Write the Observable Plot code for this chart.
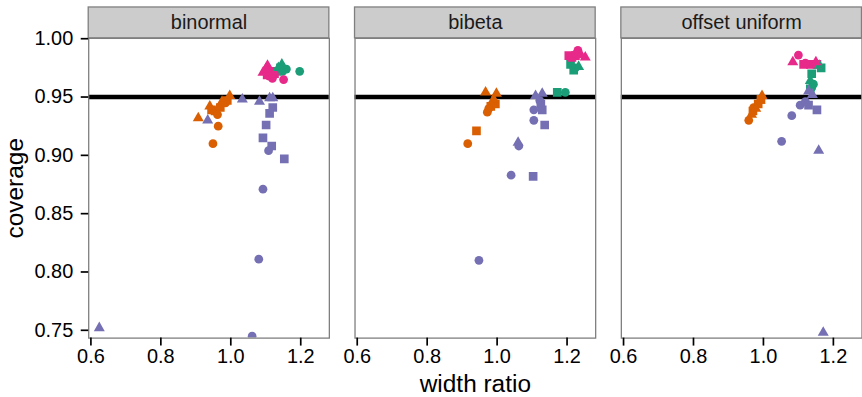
<!DOCTYPE html>
<html>
<head>
<meta charset="utf-8">
<script src="https://cdn.jsdelivr.net/npm/d3@7"></script>
<script src="https://cdn.jsdelivr.net/npm/@observablehq/plot@0.6"></script>
<style>
  html, body { margin: 0; padding: 0; background: #fff; overflow: hidden; }
  #chart { width: 862px; height: 397px; overflow: hidden; }
</style>
</head>
<body>
<div id="chart"></div>
<script>
// Facet panels (simulation scenario)
const panels = ["binormal", "bibeta", "offset uniform"];
// Interval methods (colour) and design groups (shape)
const methods = ["m1", "m2", "m3", "m4"];
const methodColors = ["#D95F02", "#7570B3", "#1B9E77", "#E7298A"];
const groups = ["g1", "g2", "g3"];
const groupSymbols = ["circle", "square", "triangle"];

// Tick values
const xTicks = [0.6, 0.8, 1.0, 1.2];
const yTicks = [0.75, 0.80, 0.85, 0.90, 0.95, 1.00];
const nominalCoverage = 0.95;

// [method, group, width ratio, coverage]
const binormalRows = [
  ["m1", "g3", 0.907, 0.932], ["m1", "g3", 0.940, 0.942], ["m1", "g3", 0.975, 0.946], ["m1", "g3", 0.997, 0.951],
  ["m1", "g1", 0.949, 0.910], ["m1", "g1", 0.964, 0.925], ["m1", "g1", 0.962, 0.935], ["m1", "g1", 0.985, 0.945],
  ["m1", "g2", 0.945, 0.939], ["m1", "g2", 0.955, 0.938], ["m1", "g2", 0.970, 0.941], ["m1", "g2", 0.990, 0.947],
  ["m2", "g3", 0.624, 0.752], ["m2", "g3", 0.934, 0.930], ["m2", "g3", 1.033, 0.948], ["m2", "g3", 1.082, 0.946],
  ["m2", "g3", 1.111, 0.949], ["m2", "g3", 1.120, 0.949],
  ["m2", "g2", 1.120, 0.941], ["m2", "g2", 1.111, 0.936], ["m2", "g2", 1.101, 0.926], ["m2", "g2", 1.092, 0.915],
  ["m2", "g2", 1.117, 0.908], ["m2", "g2", 1.153, 0.897],
  ["m2", "g1", 1.108, 0.904], ["m2", "g1", 1.092, 0.871], ["m2", "g1", 1.080, 0.811], ["m2", "g1", 1.061, 0.745],
  ["m3", "g1", 1.197, 0.972], ["m3", "g1", 1.159, 0.974], ["m3", "g1", 1.148, 0.972],
  ["m3", "g3", 1.146, 0.978], ["m3", "g3", 1.136, 0.975], ["m3", "g2", 1.132, 0.972], ["m3", "g2", 1.142, 0.975],
  ["m4", "g3", 1.105, 0.977], ["m4", "g3", 1.092, 0.971], ["m4", "g3", 1.100, 0.974],
  ["m4", "g2", 1.112, 0.972], ["m4", "g2", 1.125, 0.970], ["m4", "g2", 1.104, 0.969],
  ["m4", "g1", 1.151, 0.965], ["m4", "g1", 1.119, 0.966], ["m4", "g1", 1.110, 0.968]
];

const bibetaRows = [
  ["m1", "g3", 0.967, 0.954], ["m1", "g3", 0.998, 0.953], ["m1", "g3", 0.990, 0.948],
  ["m1", "g2", 0.995, 0.944], ["m1", "g2", 0.982, 0.942], ["m1", "g1", 0.976, 0.940],
  ["m1", "g1", 0.972, 0.937], ["m1", "g2", 0.941, 0.921], ["m1", "g1", 0.916, 0.910],
  ["m2", "g3", 1.110, 0.951], ["m2", "g3", 1.129, 0.953], ["m2", "g1", 1.122, 0.947],
  ["m2", "g2", 1.125, 0.944], ["m2", "g1", 1.105, 0.939], ["m2", "g2", 1.129, 0.939],
  ["m2", "g1", 1.105, 0.930], ["m2", "g2", 1.136, 0.926], ["m2", "g3", 1.060, 0.911],
  ["m2", "g1", 1.062, 0.908], ["m2", "g1", 1.040, 0.883], ["m2", "g2", 1.103, 0.882],
  ["m2", "g1", 0.948, 0.810],
  ["m3", "g2", 1.210, 0.978], ["m3", "g2", 1.219, 0.973], ["m3", "g3", 1.233, 0.976],
  ["m3", "g1", 1.224, 0.975], ["m3", "g2", 1.172, 0.954], ["m3", "g1", 1.195, 0.954],
  ["m4", "g1", 1.231, 0.990], ["m4", "g1", 1.226, 0.987], ["m4", "g3", 1.252, 0.984],
  ["m4", "g3", 1.240, 0.986], ["m4", "g2", 1.205, 0.9855], ["m4", "g2", 1.224, 0.9855],
  ["m4", "g2", 1.214, 0.984]
];

const offsetUniformRows = [
  ["m1", "g1", 0.958, 0.930], ["m1", "g3", 0.966, 0.935], ["m1", "g2", 0.970, 0.938],
  ["m1", "g1", 0.972, 0.941], ["m1", "g3", 0.978, 0.940], ["m1", "g2", 0.985, 0.944],
  ["m1", "g3", 0.990, 0.947], ["m1", "g2", 0.993, 0.948], ["m1", "g3", 0.996, 0.951],
  ["m2", "g3", 1.129, 0.955], ["m2", "g3", 1.140, 0.952], ["m2", "g1", 1.105, 0.943],
  ["m2", "g2", 1.129, 0.943], ["m2", "g2", 1.153, 0.939], ["m2", "g1", 1.120, 0.946],
  ["m2", "g1", 1.081, 0.934], ["m2", "g1", 1.052, 0.912], ["m2", "g3", 1.158, 0.904],
  ["m2", "g3", 1.171, 0.748],
  ["m3", "g2", 1.165, 0.975], ["m3", "g3", 1.160, 0.977], ["m3", "g2", 1.138, 0.970],
  ["m3", "g3", 1.134, 0.964], ["m3", "g1", 1.143, 0.961], ["m3", "g2", 1.134, 0.957],
  ["m3", "g1", 1.138, 0.958],
  ["m4", "g1", 1.100, 0.986], ["m4", "g3", 1.084, 0.980], ["m4", "g2", 1.115, 0.978],
  ["m4", "g2", 1.134, 0.978], ["m4", "g2", 1.153, 0.978], ["m4", "g3", 1.150, 0.980],
  ["m4", "g1", 1.120, 0.979]
];

// Long table for the faceted scatter
const rowsByPanel = [binormalRows, bibetaRows, offsetUniformRows];
const points = rowsByPanel.flatMap((rows, i) =>
  rows.map(([method, group, width, coverage]) => ({panel: panels[i], method, group, width, coverage}))
);

// Scale extents of each panel
const xDomain = [0.5937, 1.2818];
const yDomain = [0.7433, 1.0003];

// Per-symbol radius so the three glyphs read at similar sizes
const symbolRadius = {g1: 4.4, g2: 4.9, g3: 4.1};

const chart = Plot.plot({
  width: 865,
  height: 397,
  marginLeft: 88.5,
  marginRight: 0.5,
  marginTop: 38,
  marginBottom: 58.2,
  style: {
    fontFamily: "'Liberation Sans', Arial, Helvetica, sans-serif",
    fontSize: "20px",
    color: "black",
    background: "white",
    overflow: "visible"
  },
  fx: {domain: panels, paddingInner: 0.0964, paddingOuter: 0, round: false, axis: null, label: null},
  x: {domain: xDomain, round: false},
  y: {domain: yDomain},
  color: {domain: methods, range: methodColors},
  symbol: {domain: groups, range: groupSymbols},
  r: {type: "identity"},
  marks: [
    // strip headers
    Plot.rect(panels, {
      fx: d => d,
      x1: xDomain[0], x2: xDomain[1],
      y1: yDomain[1], y2: yDomain[1],
      insetTop: -31,
      fill: "#cccccc", stroke: "#7f7f7f", strokeWidth: 1.3
    }),
    Plot.text(panels, {
      fx: d => d, text: d => d,
      frameAnchor: "top", lineAnchor: "middle", dy: -15.5,
      fontSize: 20, fill: "#1a1a1a"
    }),
    // nominal coverage reference
    Plot.ruleY([nominalCoverage], {stroke: "black", strokeWidth: 4.5}),
    Plot.dot(points, {
      fx: "panel", x: "width", y: "coverage",
      fill: "method", symbol: "group",
      r: d => symbolRadius[d.group],
      clip: true
    }),
    Plot.frame({stroke: "#7f7f7f", strokeWidth: 1.3}),
    Plot.axisY({
      ticks: yTicks, tickFormat: d3.format(".2f"),
      tickSize: 7.5, tickPadding: 8, strokeWidth: 1.7,
      fontSize: 20,
      label: "coverage", labelAnchor: "center", labelOffset: 83, labelArrow: "none"
    }),
    Plot.axisX({
      ticks: xTicks, tickFormat: d3.format(".1f"),
      tickSize: 8, tickPadding: 3, strokeWidth: 1.7,
      fontSize: 20,
      label: "width ratio", labelAnchor: "center", labelOffset: 54, labelArrow: "none"
    })
  ]
});

// Axis titles are set a little larger than the tick labels
chart.querySelectorAll('[aria-label="x-axis label"] text, [aria-label="y-axis label"] text')
  .forEach(t => t.setAttribute("font-size", "24.5"));

document.getElementById("chart").appendChild(chart);
</script>
</body>
</html>
